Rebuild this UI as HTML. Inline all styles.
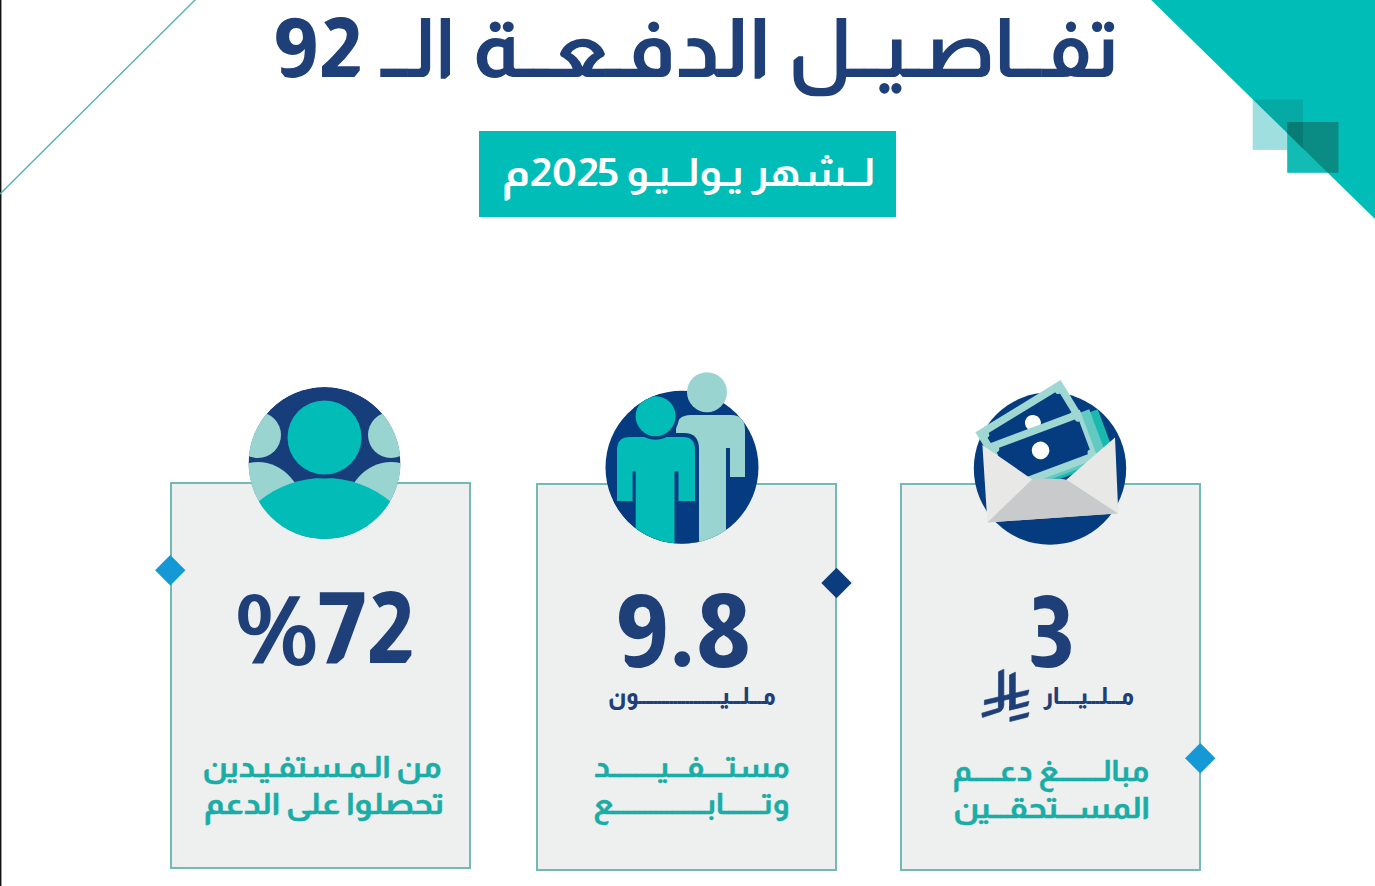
<!DOCTYPE html>
<html lang="ar">
<head>
<meta charset="utf-8">
<title>تفاصيل الدفعة الـ 92</title>
<style>
html,body{margin:0;padding:0;background:#ffffff;}
body{width:1375px;height:886px;overflow:hidden;position:relative;}
svg{display:block;position:absolute;left:0;top:0;}
.ar{font-family:"Almarai","DejaVu Sans",sans-serif;}
</style>
</head>
<body>
<svg width="1375" height="886" viewBox="0 0 1375 886">
  <!-- left edge line -->
  <rect x="0" y="0" width="1" height="886" fill="#111"/>
  <rect x="1" y="0" width="1" height="886" fill="#9a9a9a"/>
  <!-- thin diagonal line top-left -->
  <line x1="0" y1="194" x2="196" y2="-1" stroke="#55b3af" stroke-width="1.4"/>

  <!-- top-right triangle -->
  <defs><clipPath id="tri"><polygon points="1151.2,0 1375,0 1375,219.1"/></clipPath></defs>
  <polygon points="1151.2,0 1375,0 1375,219.1" fill="#00bdb8"/>
  <!-- overlapping squares -->
  <rect x="1252.7" y="99.1" width="50.3" height="50.8" fill="#a0dfe0"/>
  <rect x="1252.7" y="99.1" width="50.3" height="50.8" fill="#05aaa4" clip-path="url(#tri)"/>
  <rect x="1287.2" y="122" width="51.3" height="50.8" fill="#12bcb5"/>
  <rect x="1287.2" y="122" width="51.3" height="50.8" fill="#0a8c84" clip-path="url(#tri)"/>
  <rect x="1287.2" y="122" width="15.8" height="27.9" fill="#077c75" clip-path="url(#tri)"/>

  <!-- title -->
  <g class="ar" font-weight="700" font-size="82" fill="#1e3f78">
  <text x="1119.8" y="77" direction="rtl" textLength="331.7" lengthAdjust="spacingAndGlyphs">تفــاصـيــل</text>
  <text x="771" y="77" direction="rtl" textLength="298.9" lengthAdjust="spacingAndGlyphs">الدفـعــة</text>
  <text x="455.2" y="77" direction="rtl" textLength="74.7" lengthAdjust="spacingAndGlyphs">الــ</text>
  <text x="272.9" y="77" font-weight="800" textLength="89.6" lengthAdjust="spacingAndGlyphs">92</text>
  </g>

  <!-- subtitle box -->
  <rect x="479" y="131" width="417" height="86" fill="#00bdb8"/>
  <g class="ar" font-weight="700" font-size="39" fill="#ffffff" direction="rtl">
  <text x="875.2" y="186" textLength="249" lengthAdjust="spacingAndGlyphs">لــشهر يـولــيـو</text>
  <text x="619.1" y="186" textLength="117" lengthAdjust="spacingAndGlyphs">2025م</text>
  </g>

  <!-- cards -->
  <rect x="171" y="483" width="299" height="385" fill="#eef0ef" stroke="#74b9b5" stroke-width="2"/>
  <rect x="537" y="484" width="299" height="386" fill="#eef0ef" stroke="#74b9b5" stroke-width="2"/>
  <rect x="901" y="484" width="299" height="386" fill="#eef0ef" stroke="#74b9b5" stroke-width="2"/>

  <!-- diamonds -->
  <rect x="159.5" y="559.5" width="21.5" height="21.5" fill="#1599d6" transform="rotate(45 170.25 570.25)"/>
  <rect x="825.75" y="572.25" width="21.5" height="21.5" fill="#0b3c7e" transform="rotate(45 836.5 583)"/>
  <rect x="1189.5" y="747.5" width="21.5" height="21.5" fill="#1599d6" transform="rotate(45 1200.25 758.25)"/>

  <!-- ICON 1 : group of people -->
  <defs>
    <clipPath id="c1"><circle cx="324.5" cy="463" r="76"/></clipPath>
    <clipPath id="c2"><circle cx="682" cy="467.3" r="76.5"/></clipPath>
    <clipPath id="c3"><circle cx="1050" cy="468.6" r="76.2"/></clipPath>
  </defs>
  <g clip-path="url(#c1)">
    <circle cx="324.5" cy="463" r="76" fill="#173e7b"/>
    <circle cx="258" cy="435" r="23" fill="#99d4d1"/>
    <circle cx="391" cy="435" r="23" fill="#99d4d1"/>
    <ellipse cx="258" cy="514" rx="46" ry="52" fill="#99d4d1"/>
    <ellipse cx="391" cy="514" rx="46" ry="52" fill="#99d4d1"/>
    <ellipse cx="324.5" cy="556" rx="92" ry="78" fill="#02bcb7"/>
    <circle cx="324.5" cy="437.5" r="41" fill="#173e7b"/>
    <circle cx="324.5" cy="437.5" r="37" fill="#02bcb7"/>
  </g>

  <!-- ICON 2 : two persons -->
  <circle cx="682" cy="467.3" r="76.5" fill="#053b80"/>
  <g clip-path="url(#c2)">
    <!-- back person body -->
    <path d="M676,430 Q676,415 691,415 L731,415 Q745,415 745,430 L745,477 L730,477 L730,448 L726,448 L726,560 L676,560 Z" fill="#99d4d1"/>
    <!-- front person outline (navy) -->
    <path d="M613,449 Q613,433 629,433 L684,433 Q699,433 699,449 L699,560 L613,560 Z" fill="#053b80"/>
    <!-- front person body -->
    <path d="M617,450 Q617,437 630,437 L683,437 Q695,437 695,450 L695,501 L678.5,501 L678.5,471.5 L674.5,471.5 L674.5,560 L635.7,560 L635.7,471.5 L632.6,471.5 L632.6,501 L617,501 Z" fill="#02bcb7"/>
    <circle cx="655.6" cy="416.2" r="23.5" fill="#053b80"/>
    <circle cx="655.6" cy="416.2" r="20" fill="#02bcb7"/>
  </g>
  <circle cx="707" cy="392.2" r="20" fill="#99d4d1"/>

  <!-- ICON 3 : envelope with money -->
  <circle cx="1050" cy="468.6" r="76.2" fill="#053c80"/>
  <!-- back bill -->
  <g transform="translate(1029.5 425) rotate(-31.5)">
    <rect x="-50" y="-22" width="100" height="44" fill="#9fd7d3"/>
    <rect x="-42.5" y="-14.5" width="85" height="29" fill="#053c80"/>
    <g fill="#9fd7d3"><circle cx="-42.5" cy="-14.5" r="3.5"/><circle cx="42.5" cy="-14.5" r="3.5"/><circle cx="-42.5" cy="14.5" r="3.5"/><circle cx="42.5" cy="14.5" r="3.5"/></g>
    <circle cx="4" cy="0" r="8" fill="#ffffff"/>
  </g>
  <!-- stacked bill edges -->
  <g transform="translate(1042 451.5) rotate(-20.5)">
    <rect x="-33" y="-20" width="100" height="52" fill="#1bb8ad"/>
    <rect x="-41" y="-23" width="100" height="52" fill="#63cac3"/>
  </g>
  <!-- front bill -->
  <g transform="translate(1042 451.5) rotate(-20.5)">
    <rect x="-50" y="-26" width="100" height="52" fill="#9fd7d3"/>
    <rect x="-42.5" y="-18.5" width="88" height="37" fill="#053c80"/>
    <g fill="#9fd7d3"><circle cx="-42.5" cy="-18.5" r="3.5"/><circle cx="45.5" cy="-18.5" r="3.5"/><circle cx="-42.5" cy="18.5" r="3.5"/><circle cx="45.5" cy="18.5" r="3.5"/></g>
    <circle cx="-1" cy="-1.5" r="8.8" fill="#ffffff"/>
  </g>
  <!-- envelope -->
  <polygon points="982.4,445 1033,480 1066,480 1115,437.5 1118.3,513.2 987.4,522.5" fill="#e8e8e6"/>
  <path d="M987.4,522.5 L1030.5,481 Q1033,478.6 1036.5,478.6 L1062,478.9 Q1065.5,479 1068.5,481 L1118,513.4 Z" fill="#c8cacb"/>

  <!-- numbers -->
  <text class="ar" x="236.4" y="662.5" font-weight="800" font-size="99" fill="#1e3f78" textLength="178.1" lengthAdjust="spacingAndGlyphs">%72</text>
  <text class="ar" x="615.2" y="667" font-weight="800" font-size="101" fill="#1e3f78" textLength="136.7" lengthAdjust="spacingAndGlyphs">9.8</text>
  <text class="ar" x="1026.5" y="667" font-weight="800" font-size="100" fill="#1e3f78" textLength="47.3" lengthAdjust="spacingAndGlyphs">3</text>

  <!-- units -->
  <text class="ar" x="775.7" y="703.5" direction="rtl" font-weight="800" font-size="23.5" fill="#1e3f78" textLength="167.6" lengthAdjust="spacingAndGlyphs">مـــلـــيـــــــــــــــــــــون</text>
  <text class="ar" x="1134.2" y="704.4" direction="rtl" font-weight="800" font-size="23.3" fill="#1e3f78" textLength="90.7" lengthAdjust="spacingAndGlyphs">مـــلـــيـــــار</text>

  <!-- captions -->
  <g class="ar" font-weight="700" font-size="29.7" fill="#1aaca6" stroke="#1aaca6" stroke-width="0.45" direction="rtl">
  <text x="441.6" y="776.7" textLength="239" lengthAdjust="spacingAndGlyphs">من الـمـستفـيـدين</text>
  <text x="444.3" y="814" textLength="240.3" lengthAdjust="spacingAndGlyphs">تحصلوا على الدعم</text>
  <text x="789.4" y="777.1" textLength="195.4" lengthAdjust="spacingAndGlyphs">مستــــفـــيـــــــــد</text>
  <text x="789.4" y="814" textLength="196.1" lengthAdjust="spacingAndGlyphs">وتـــــــابـــــــــــــــــع</text>
  <text x="1149.2" y="781" textLength="196.5" lengthAdjust="spacingAndGlyphs">مبالــــــــغ دعـــــم</text>
  <text x="1150" y="818" textLength="196.7" lengthAdjust="spacingAndGlyphs">المســـتحقـــين</text>
  </g>

  <!-- Saudi riyal symbol -->
  <g fill="#1e3f78" stroke="#1e3f78" stroke-width="10" stroke-linejoin="round" transform="translate(975 665) scale(0.0677)">
    <path d="M348,100 L426,62 L426,600 Q420,660 370,690 L110,775 L100,712 L345,640 Z"/>
    <path d="M510,148 L596,106 L596,600 L510,665 Z"/>
    <path d="M140,520 L798,368 L778,440 L138,588 Z"/>
    <path d="M510,612 L798,535 L780,602 L510,668 Z"/>
    <path d="M515,772 L798,703 L780,768 L515,836 Z"/>
  </g>
</svg>
</body>
</html>
